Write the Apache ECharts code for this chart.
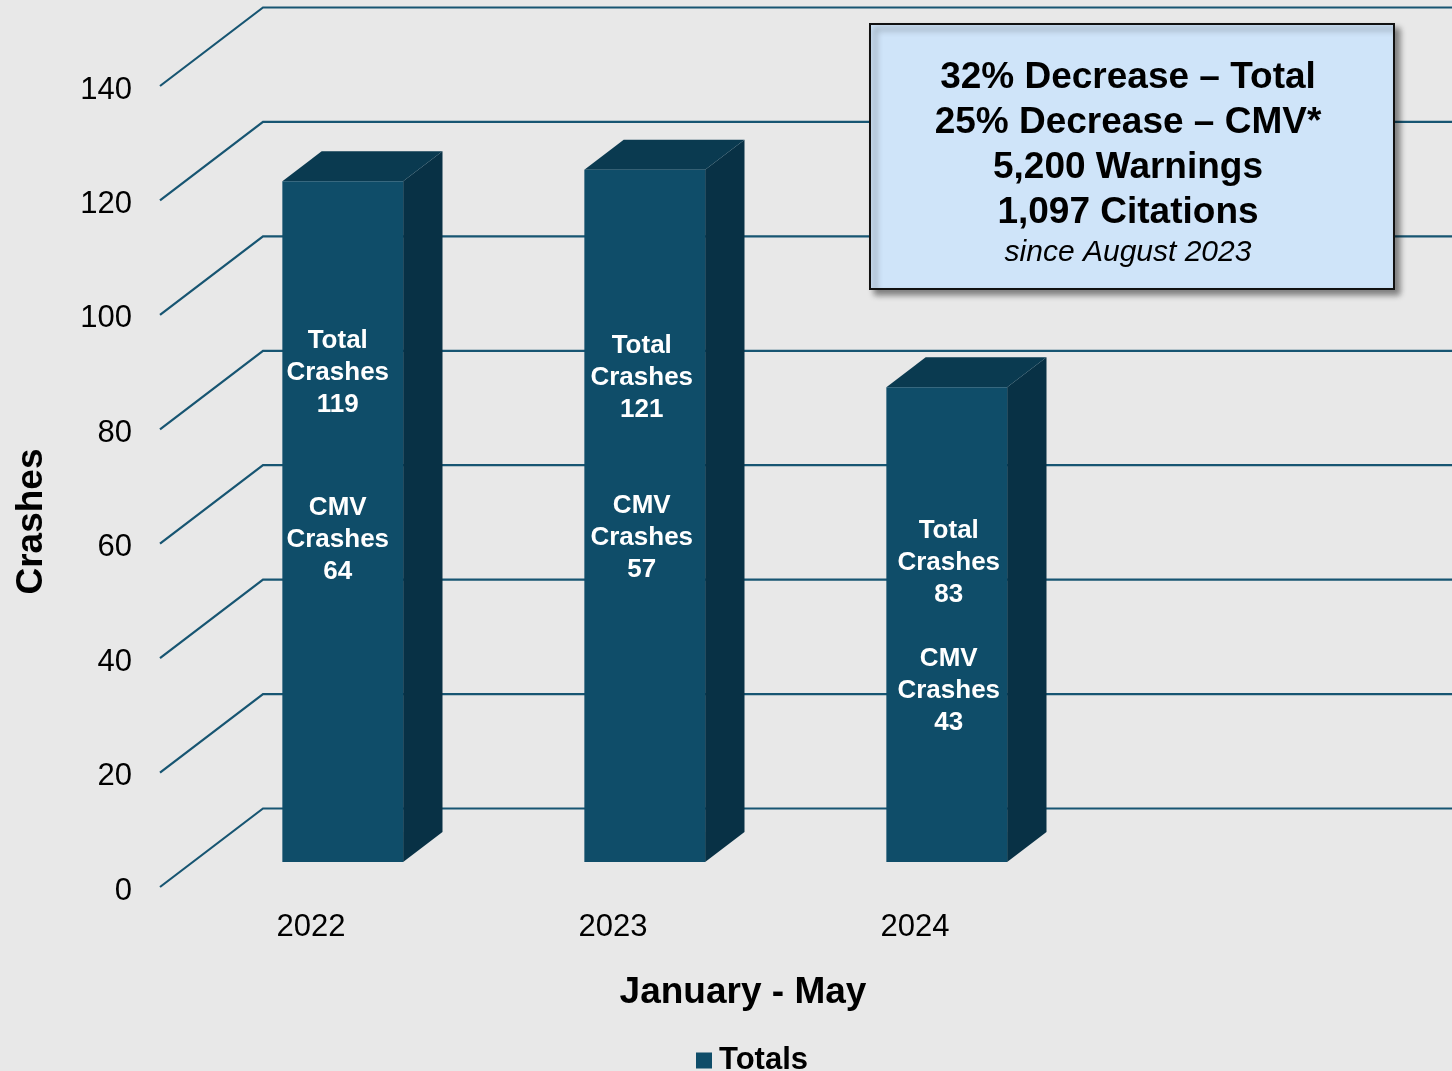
<!DOCTYPE html>
<html>
<head>
<meta charset="utf-8">
<script src="https://cdn.jsdelivr.net/npm/echarts@6/dist/echarts.min.js"></script>
<style>
html,body{margin:0;padding:0;background:#e8e8e8;}
#chart{width:1452px;height:1071px;}
</style>
</head>
<body>
<div id="chart"></div>
<script>
// ---- data ----
const years = ['2022', '2023', '2024'];
const totalCrashes = [119, 121, 83];
const cmvCrashes = [64, 57, 43];
const yTicks = [0, 20, 40, 60, 80, 100, 120, 140];
const boxLines = ['32% Decrease \u2013 Total', '25% Decrease \u2013 CMV*', '5,200 Warnings', '1,097 Citations'];
const boxNote = 'since August 2023';

// ---- style / layout ----
const FONT = '"Liberation Sans", Arial, Helvetica, sans-serif';
const DX = 103, DY = -78.5;          // perspective depth vector of the floor
const F1 = 0.318, F2 = 0.70;         // bar front / back depth fractions
const BAR_W = 0.4;                    // bar width as fraction of category band
const FRONT = '#0f4d69', TOP = '#0a3a50', SIDE = '#083145';
const GRID_COLOR = '#175572';
const totalLabelOffset = [157, 173, 141]; // px below bar top (first line centre)
const cmvLabelOffset = [324, 333, 269];
const labelDX = [-5, -3, 2];

const chart = echarts.init(document.getElementById('chart'));

const option = {
  backgroundColor: '#e8e8e8',
  animation: false,
  grid: { left: 160, top: 86, width: 906, height: 801 },
  xAxis: {
    type: 'category',
    data: years,
    axisLine: { show: false },
    axisTick: { show: false },
    axisLabel: { fontSize: 31, color: '#000', margin: 25, fontFamily: FONT },
    name: 'January - May',
    nameLocation: 'middle',
    nameGap: 87,
    nameTextStyle: { fontSize: 37, fontWeight: 'bold', color: '#000', fontFamily: FONT, padding: [0, 0, 0, 260] }
  },
  yAxis: {
    type: 'value',
    min: 0, max: 140, interval: 20,
    axisLine: { show: false },
    axisTick: { show: false },
    splitLine: { show: false },
    axisLabel: {
      fontSize: 31, color: '#000', margin: 28, fontFamily: FONT,
      formatter: '{a|{value}}',
      rich: { a: { fontSize: 31, color: '#000', fontFamily: FONT, padding: [8, 0, 0, 0] } }
    },
    name: 'Crashes',
    nameLocation: 'middle',
    nameRotate: 90,
    nameGap: 110,
    nameTextStyle: { fontSize: 37, fontWeight: 'bold', color: '#000', fontFamily: FONT, padding: [0, 70, 0, 0] }
  },
  legend: {
    data: ['Totals'],
    left: 691, top: 1040,
    icon: 'rect', itemWidth: 16, itemHeight: 16, itemGap: 6,
    textStyle: { fontSize: 31, fontWeight: 'bold', color: '#000', fontFamily: FONT, padding: [0, 0, 0, 2] }
  },
  series: [
    {
      type: 'custom',
      name: 'gridlines',
      silent: true,
      zlevel: 0,
      z: 1,
      data: yTicks.map(v => [0, v]),
      encode: { x: 0, y: 1 },
      renderItem: function (params, api) {
        const y = api.coord([0, api.value(1)])[1];
        const x0 = params.coordSys.x;
        return {
          type: 'polyline',
          shape: { points: [[x0, y], [x0 + DX, y + DY], [api.getWidth() + 10, y + DY]] },
          style: { stroke: GRID_COLOR, lineWidth: 2.2, fill: null }
        };
      }
    },
    {
      type: 'custom',
      name: 'Totals',
      zlevel: 1,
      z: 5,
      itemStyle: { color: FRONT },
      data: totalCrashes.map((v, i) => [i, v, cmvCrashes[i]]),
      encode: { x: 0, y: 1 },
      renderItem: function (params, api) {
        const i = api.value(0);
        const v = api.value(1);
        const c = api.value(2);
        const topPt = api.coord([i, v]);
        const basePt = api.coord([i, 0]);
        const band = api.size([1, 0])[0];
        const w = band * BAR_W;
        const xl = topPt[0] - w / 2 + DX * F1 - 1;
        const xr = xl + w;
        const yt = topPt[1] + DY * F1;
        const yb = basePt[1] + DY * F1;
        const dx = DX * (F2 - F1), dy = DY * (F2 - F1);
        const cx = (xl + xr) / 2 + labelDX[i];
        const textStyle = (txt, y) => ({
          type: 'text',
          style: {
            text: txt, x: cx, y: y,
            fill: '#fff', font: 'bold 26px ' + FONT,
            align: 'center', verticalAlign: 'top', lineHeight: 32
          },
          z2: 10
        });
        return {
          type: 'group',
          children: [
            { type: 'polygon', shape: { points: [[xr, yt], [xr + dx, yt + dy], [xr + dx, yb + dy], [xr, yb]] }, style: { fill: SIDE } },
            { type: 'polygon', shape: { points: [[xl, yt], [xr, yt], [xr + dx, yt + dy], [xl + dx, yt + dy]] }, style: { fill: TOP } },
            { type: 'rect', shape: { x: xl, y: yt, width: w, height: yb - yt }, style: { fill: FRONT } },
            textStyle('Total\nCrashes\n' + v, yt + totalLabelOffset[i] - 13),
            textStyle('CMV\nCrashes\n' + c, yt + cmvLabelOffset[i] - 13)
          ]
        };
      }
    }
  ],
  graphic: [
    {
      type: 'group',
      left: 869, top: 23,
      zlevel: 2,
      z: 100,
      children: [
        {
          type: 'rect',
          zlevel: 2, z: 100,
          shape: { x: 0, y: 0, width: 524, height: 265 },
          style: { fill: '#cfe4f9', stroke: '#111', lineWidth: 2, shadowBlur: 6, shadowOffsetX: 5, shadowOffsetY: 5, shadowColor: 'rgba(0,0,0,0.45)' }
        }
      ].concat(boxLines.map((t, k) => ({
        type: 'text',
        zlevel: 2, z: 101,
        style: { text: t, x: 258, y: 54 + 45 * k, font: 'bold 37px ' + FONT, fill: '#000', align: 'center', verticalAlign: 'middle' }
      }))).concat([{
        type: 'text',
        zlevel: 2, z: 101,
        style: { text: boxNote, x: 258, y: 229, font: 'italic 30px ' + FONT, fill: '#000', align: 'center', verticalAlign: 'middle' }
      }])
    }
  ]
};
chart.setOption(option);
</script>
</body>
</html>
